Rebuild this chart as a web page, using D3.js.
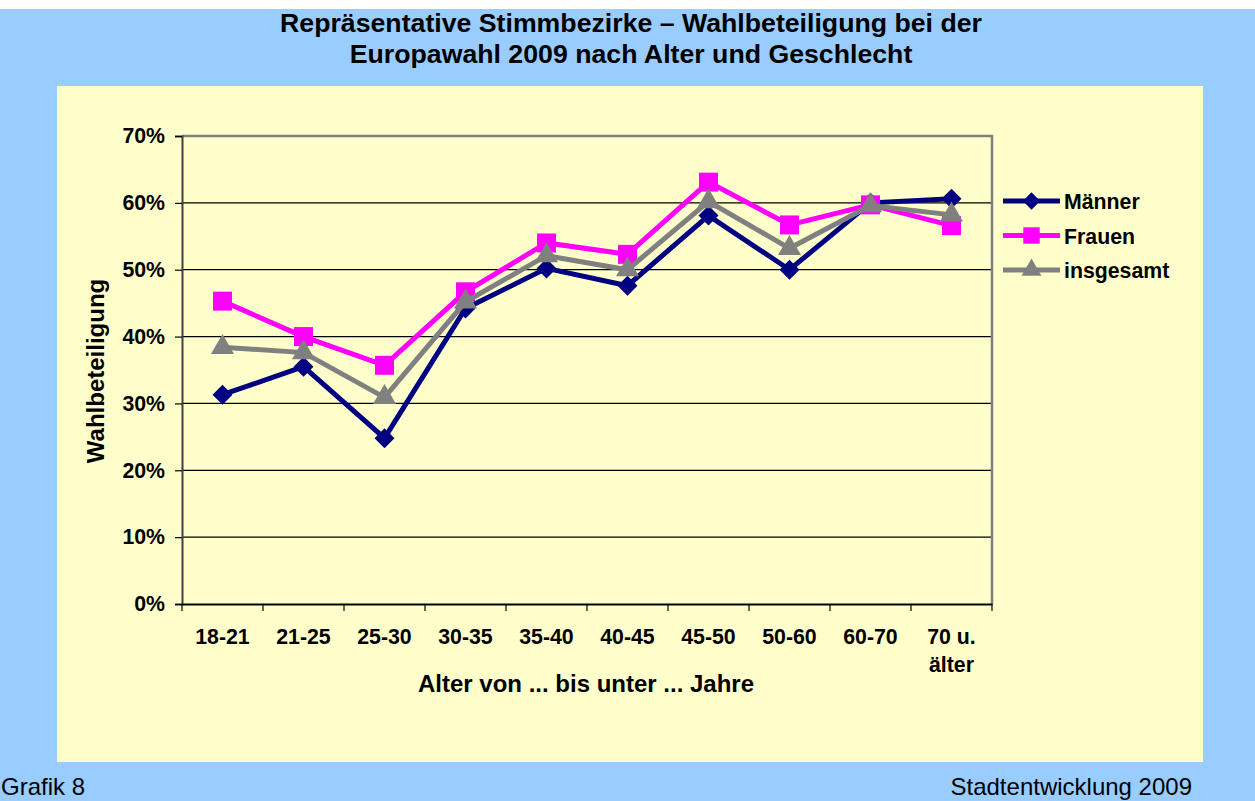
<!DOCTYPE html>
<html>
<head>
<meta charset="utf-8">
<script src="https://cdn.jsdelivr.net/npm/d3@7"></script>
<style>
  html, body { margin: 0; padding: 0; background: #99ccff; }
  svg { display: block; font-family: "Liberation Sans", Arial, sans-serif; }
</style>
</head>
<body>
<svg id="chart"></svg>
<script>
// categories and values
var categories = ["18-21", "21-25", "25-30", "30-35", "35-40", "40-45", "45-50", "50-60", "60-70", "70 u. älter"];
var maenner   = [31.3, 35.5, 24.8, 44.2, 50.2, 47.6, 58.1, 50.0, 60.0, 60.6];
var frauen    = [45.3, 40.0, 35.7, 46.7, 54.0, 52.3, 63.1, 56.7, 59.7, 56.6];
var insgesamt = [38.4, 37.6, 30.9, 45.2, 52.1, 50.0, 60.2, 53.2, 59.6, 58.2];
var yTicks = [0, 10, 20, 30, 40, 50, 60, 70];

var series = [
  { name: "Männer", values: maenner, color: "#000080", shape: "diamond" },
  { name: "Frauen", values: frauen, color: "#ff00ff", shape: "square" },
  { name: "insgesamt", values: insgesamt, color: "#808080", shape: "triangle" }
];

var W = 1255, H = 801;
var svg = d3.select("#chart").attr("width", W).attr("height", H);

// white strip on top
svg.append("rect")
  .attr("x", 0).attr("y", 0)
  .attr("width", W).attr("height", 9)
  .attr("fill", "#fff");

// yellow chart area
svg.append("rect")
  .attr("x", 57).attr("y", 86)
  .attr("width", 1146).attr("height", 676)
  .attr("fill", "#ffffcc");

// title
svg.append("text")
  .attr("x", 631).attr("y", 32)
  .attr("text-anchor", "middle")
  .style("font-size", "26.7px").style("font-weight", "bold")
  .text("Repräsentative Stimmbezirke – Wahlbeteiligung bei der");
svg.append("text")
  .attr("x", 631).attr("y", 63)
  .attr("text-anchor", "middle")
  .style("font-size", "26.7px").style("font-weight", "bold")
  .text("Europawahl 2009 nach Alter und Geschlecht");

// footer
svg.append("text")
  .attr("x", 1).attr("y", 795)
  .style("font-size", "24px")
  .text("Grafik 8");
svg.append("text")
  .attr("x", 1192).attr("y", 795)
  .attr("text-anchor", "end")
  .style("font-size", "24px")
  .text("Stadtentwicklung 2009");

var margin = { left: 182, top: 136, right: 992, bottom: 604 };
var width = margin.right - margin.left,
    height = margin.bottom - margin.top;

var g = svg.append("g")
  .attr("transform", "translate(" + margin.left + "," + margin.top + ")");

var x = d3.scaleBand().domain(categories).range([0, width]);
var y = d3.scaleLinear().domain([0, 70]).range([height, 0]);

// gridlines
g.selectAll(".grid")
  .data(yTicks.filter(function (d) { return d > 0 && d < 70; }))
  .enter().append("line")
  .attr("class", "grid")
  .attr("x1", 0).attr("x2", width)
  .attr("y1", function (d) { return y(d); })
  .attr("y2", function (d) { return y(d); })
  .attr("stroke", "#000").attr("stroke-width", 1.2);

// plot frame (top and right in gray)
g.append("path")
  .attr("d", "M0," + y(70) + "H" + width + "V" + height)
  .attr("fill", "none")
  .attr("stroke", "#808080").attr("stroke-width", 2.5);

// y axis
var yAxis = g.append("g")
  .call(d3.axisLeft(y).tickValues(yTicks).tickSize(7).tickPadding(10)
    .tickFormat(function (d) { return d + "%"; }));
yAxis.select(".domain").attr("stroke", "#404040").attr("stroke-width", 2);
yAxis.selectAll(".tick line").attr("stroke", "#000").attr("stroke-width", 1.2);
yAxis.selectAll("text")
  .style("font-size", "21.3px").style("font-weight", "bold")
  .style("font-family", "Liberation Sans, Arial, sans-serif")
  .attr("fill", "#000");

// x axis
var xAxis = g.append("g")
  .attr("transform", "translate(0," + height + ")")
  .call(d3.axisBottom(x).tickSize(0).tickPadding(0));
xAxis.select(".domain").attr("stroke", "#000").attr("stroke-width", 2);
xAxis.selectAll(".tick text").remove();
// tick marks between categories
xAxis.selectAll(".sep")
  .data(d3.range(categories.length + 1))
  .enter().append("line")
  .attr("class", "sep")
  .attr("x1", function (i) { return i * x.step(); })
  .attr("x2", function (i) { return i * x.step(); })
  .attr("y1", 0).attr("y2", 7)
  .attr("stroke", "#000").attr("stroke-width", 1.2);
// category labels (wrapped)
xAxis.selectAll(".cat")
  .data(categories)
  .enter().append("text")
  .attr("class", "cat")
  .attr("text-anchor", "middle")
  .style("font-size", "21.3px").style("font-weight", "bold")
  .attr("fill", "#000")
  .each(function (d) {
    var parts = d === "70 u. älter" ? ["70 u.", "älter"] : [d];
    var t = d3.select(this);
    parts.forEach(function (p, i) {
      t.append("tspan")
        .attr("x", x(d) + x.bandwidth() / 2)
        .attr("y", 40 + i * 28)
        .text(p);
    });
  });

// axis titles
svg.append("text")
  .attr("x", 586).attr("y", 692)
  .attr("text-anchor", "middle")
  .style("font-size", "24px").style("font-weight", "bold")
  .text("Alter von ... bis unter ... Jahre");
svg.append("text")
  .attr("transform", "translate(104,371) rotate(-90)")
  .attr("text-anchor", "middle")
  .style("font-size", "24px").style("font-weight", "bold")
  .text("Wahlbeteiligung");

// diamond = square turned by 45 degrees
var symbols = { diamond: d3.symbolSquare, square: d3.symbolSquare, triangle: d3.symbolTriangle };
var sizes = { diamond: 200, square: 360, triangle: 230 };
var turn = { diamond: 45, square: 0, triangle: 0 };

var line = d3.line()
  .x(function (d, i) { return x(categories[i]) + x.bandwidth() / 2; })
  .y(function (d) { return y(d); });

series.forEach(function (s) {
  g.append("path")
    .datum(s.values)
    .attr("d", line)
    .attr("fill", "none")
    .attr("stroke", s.color)
    .attr("stroke-width", 5)
    .attr("stroke-linejoin", "miter");
  g.selectAll(".m-" + s.shape)
    .data(s.values)
    .enter().append("path")
    .attr("class", "m-" + s.shape)
    .attr("transform", function (d, i) {
      return "translate(" + (x(categories[i]) + x.bandwidth() / 2) + "," + y(d) + ") rotate(" + turn[s.shape] + ")";
    })
    .attr("d", d3.symbol().type(symbols[s.shape]).size(sizes[s.shape]))
    .attr("fill", s.color);
});

// legend
var legend = svg.append("g").attr("transform", "translate(1003,201)");
series.forEach(function (s, i) {
  var row = legend.append("g").attr("transform", "translate(0," + i * 34.5 + ")");
  row.append("line")
    .attr("x1", 0).attr("x2", 57)
    .attr("stroke", s.color).attr("stroke-width", 5);
  row.append("path")
    .attr("transform", "translate(28.5,0) rotate(" + turn[s.shape] + ")")
    .attr("d", d3.symbol().type(symbols[s.shape]).size(sizes[s.shape] * 0.75))
    .attr("fill", s.color);
  row.append("text")
    .attr("x", 61).attr("y", 8)
    .style("font-size", "21.3px").style("font-weight", "bold")
    .text(s.name);
});
</script>
</body>
</html>
